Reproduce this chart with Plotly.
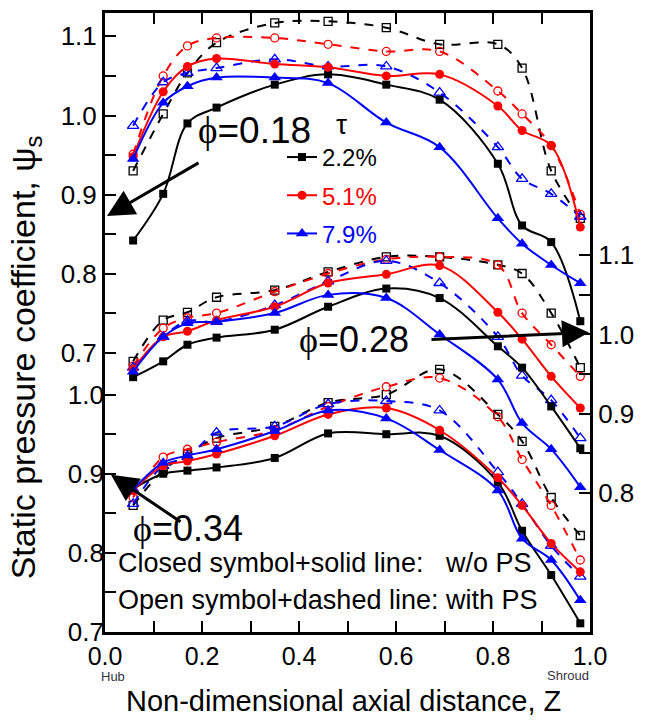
import plotly.graph_objects as go

# ---------------- data ----------------
Z = [0.058, 0.12, 0.17, 0.23, 0.35, 0.46, 0.58, 0.69, 0.81, 0.86, 0.92, 0.98]

# phi = 0.18 (upper left scale)
p18_22_wo = [0.842, 0.901, 0.990, 1.010, 1.039, 1.052, 1.039, 1.020, 0.939, 0.861, 0.840, 0.740]
p18_51_wo = [0.948, 1.030, 1.062, 1.072, 1.065, 1.061, 1.050, 1.052, 1.012, 0.981, 0.962, 0.859]
p18_79_wo = [0.945, 1.016, 1.037, 1.048, 1.048, 1.041, 0.991, 0.960, 0.870, 0.838, 0.811, 0.788]
p18_22_w = [0.930, 1.002, 1.054, 1.092, 1.117, 1.119, 1.111, 1.090, 1.090, 1.060, 0.930, 0.870]
p18_51_w = [0.951, 1.050, 1.088, 1.098, 1.098, 1.090, 1.081, 1.081, 1.031, 1.002, 0.962, 0.875]
p18_79_w = [0.987, 1.042, 1.054, 1.060, 1.071, 1.062, 1.062, 1.029, 0.960, 0.920, 0.901, 0.872]

# phi = 0.28 (right scale)
p28_22_wo = [0.946, 0.966, 0.987, 0.996, 1.006, 1.035, 1.058, 1.046, 0.985, 0.958, 0.909, 0.856]
p28_51_wo = [0.956, 0.997, 1.004, 1.018, 1.035, 1.065, 1.076, 1.087, 1.028, 0.994, 0.947, 0.907]
p28_79_wo = [0.953, 0.997, 1.014, 1.016, 1.027, 1.050, 1.046, 1.000, 0.943, 0.888, 0.855, 0.807]
p28_22_w = [0.966, 1.018, 1.028, 1.047, 1.056, 1.079, 1.098, 1.098, 1.088, 1.077, 1.027, 0.958]
p28_51_w = [0.960, 1.008, 1.021, 1.027, 1.054, 1.077, 1.095, 1.098, 1.088, 1.027, 0.987, 0.947]
p28_79_w = [0.958, 0.997, 1.017, 1.016, 1.037, 1.067, 1.093, 1.065, 0.997, 0.948, 0.917, 0.869]

# phi = 0.34 (lower left scale)
p34_22_wo = [0.881, 0.900, 0.904, 0.908, 0.920, 0.951, 0.950, 0.948, 0.889, 0.828, 0.772, 0.711]
p34_51_wo = [0.879, 0.910, 0.916, 0.925, 0.948, 0.975, 0.983, 0.955, 0.895, 0.860, 0.812, 0.776]
p34_79_wo = [0.880, 0.914, 0.923, 0.931, 0.954, 0.980, 0.970, 0.930, 0.879, 0.818, 0.791, 0.740]
p34_22_w = [0.860, 0.904, 0.925, 0.945, 0.960, 0.990, 1.000, 1.032, 0.975, 0.941, 0.870, 0.822]
p34_51_w = [0.870, 0.921, 0.931, 0.940, 0.955, 0.985, 1.010, 1.021, 0.972, 0.918, 0.860, 0.791]
p34_79_w = [0.862, 0.910, 0.921, 0.952, 0.960, 0.988, 0.992, 0.980, 0.902, 0.862, 0.809, 0.770]

tau_labels = ["2.2%", "5.1%", "7.9%"]
colors = ["#000000", "#ff0000", "#0000ff"]
closed_sym = ["square", "circle", "triangle-up"]
open_sym = ["square-open", "circle-open", "triangle-up-open"]
closed_size = [8, 9, 11]
open_size = [8, 8, 10]

groups = [
    ("y", [p18_22_wo, p18_51_wo, p18_79_wo], [p18_22_w, p18_51_w, p18_79_w]),
    ("y2", [p28_22_wo, p28_51_wo, p28_79_wo], [p28_22_w, p28_51_w, p28_79_w]),
    ("y3", [p34_22_wo, p34_51_wo, p34_79_wo], [p34_22_w, p34_51_w, p34_79_w]),
]

FONT = "Liberation Sans, Arial, sans-serif"
fig = go.Figure()

for gi, (yax, wo_list, w_list) in enumerate(groups):
    for k in range(3):
        fig.add_trace(go.Scatter(
            x=Z, y=w_list[k], yaxis=yax, mode="lines+markers",
            line=dict(color=colors[k], width=2, dash="dash", shape="spline", smoothing=1.0),
            marker=dict(symbol=open_sym[k], size=open_size[k], color=colors[k],
                        line=dict(color=colors[k], width=1.3)),
            showlegend=False))
    for k in range(3):
        name = f"<span style='color:{colors[k]}'>{tau_labels[k]}</span>"
        fig.add_trace(go.Scatter(
            x=Z, y=wo_list[k], yaxis=yax, mode="lines+markers",
            line=dict(color=colors[k], width=2, shape="spline", smoothing=1.0),
            marker=dict(symbol=closed_sym[k], size=closed_size[k], color=colors[k]),
            name=name, legendgroup=f"g{k}", legendrank=k,
            showlegend=(gi == 0)))

# axis geometry: plot area 10..632 px, 795 px per unit
def rng(val, ypx):
    top = val + (ypx - 10) / 795.0
    bot = val - (632 - ypx) / 795.0
    return [bot, top]

def ticks(vals_major, lo, hi):
    vals, txt = [], []
    v = lo
    while v <= hi + 1e-9:
        vals.append(round(v, 2))
        txt.append(f"{v:.1f}" if any(abs(v - m) < 1e-6 for m in vals_major) else "")
        v += 0.05
    return vals, txt

yv1, yt1 = ticks([0.7, 0.8, 0.9, 1.0, 1.1], 0.7, 1.1)
yv3, yt3 = ticks([0.7, 0.8, 0.9, 1.0], 0.7, 1.0)
yv2, yt2 = ticks([0.8, 0.9, 1.0, 1.1], 0.8, 1.1)

axcommon = dict(showgrid=False, zeroline=False, ticks="inside", ticklen=11, tickwidth=2,
                tickcolor="black", tickmode="array",
                tickfont=dict(family=FONT, size=26, color="black"))
xaxcommon = dict(axcommon)
xaxcommon["tickfont"] = dict(family=FONT, size=25, color="black")

fig.update_layout(
    width=648, height=720,
    margin=dict(l=105, r=58, t=10, b=88),
    paper_bgcolor="white", plot_bgcolor="white",
    showlegend=True,
    legend=dict(x=0.365, y=0.803, xanchor="left", yanchor="top",
                bgcolor="rgba(0,0,0,0)", borderwidth=0, traceorder="grouped",
                tracegroupgap=4, font=dict(family=FONT, size=24, color="black")),
    xaxis=dict(range=[0, 1], showline=True, linewidth=3, linecolor="black", mirror="ticks",
               tickvals=[0, 0.1, 0.2, 0.3, 0.4, 0.5, 0.6, 0.7, 0.8, 0.9, 1.0],
               ticktext=["0.0", "", "0.2", "", "0.4", "", "0.6", "", "0.8", "", "1.0"],
               ticklabelstandoff=0, **xaxcommon),
    yaxis=dict(range=rng(1.0, 113), side="left", showline=True, linewidth=3, linecolor="black",
               tickvals=yv1, ticktext=yt1, **axcommon),
    yaxis3=dict(range=rng(0.7, 632), side="left", overlaying="y", showline=False,
                tickvals=yv3, ticktext=yt3, **axcommon),
    yaxis2=dict(range=rng(1.0, 333), side="right", overlaying="y", showline=True, linewidth=3,
                linecolor="black", tickvals=yv2, ticktext=yt2, **axcommon),
)

def px(xp):
    return (xp - 105) / 485.0

def py(yp):
    return (632 - yp) / 622.0

PHI = "<span style='font-family:Liberation Serif'>ϕ</span>"
ann = [
    dict(text="Non-dimensional axial distance, Z", x=px(343), y=py(701), size=29),
    dict(text="Static pressure coefficient, ψ<sub>s</sub>", x=px(25), y=py(356), size=34, angle=-90),
    dict(text=PHI + "=0.18", x=px(196), y=py(128), size=37, xa="left"),
    dict(text="τ", x=px(341), y=py(122), size=28),
    dict(text=PHI + "=0.28", x=px(297), y=py(338), size=36, xa="left"),
    dict(text=PHI + "=0.34", x=px(131), y=py(528), size=36, xa="left"),
    dict(text="Closed symbol+solid line:   w/o PS", x=px(116), y=py(563), size=27, xa="left"),
    dict(text="Open symbol+dashed line: with PS", x=px(116), y=py(600), size=27, xa="left"),
    dict(text="Hub", x=px(113), y=py(677), size=13, color="#333344"),
    dict(text="Shroud", x=px(568), y=py(676), size=13, color="#333344"),
]
for a in ann:
    fig.add_annotation(text=a["text"], x=a["x"], y=a["y"], xref="paper", yref="paper",
                       showarrow=False, xanchor=a.get("xa", "center"), yanchor="middle",
                       textangle=a.get("angle", 0),
                       font=dict(family=FONT, size=a["size"], color=a.get("color", "black")))

arrows = [
    ((107, 214), (200, 160)),
    ((589, 331), (430, 338)),
    ((111, 474), (182, 522)),
]
for (hx, hy), (tx, ty) in arrows:
    fig.add_annotation(x=px(hx), y=py(hy), xref="paper", yref="paper", text="",
                       showarrow=True, ax=tx - hx, ay=ty - hy, arrowhead=2, arrowsize=1.8,
                       arrowwidth=3, arrowcolor="black")

fig.write_html("out.html")
